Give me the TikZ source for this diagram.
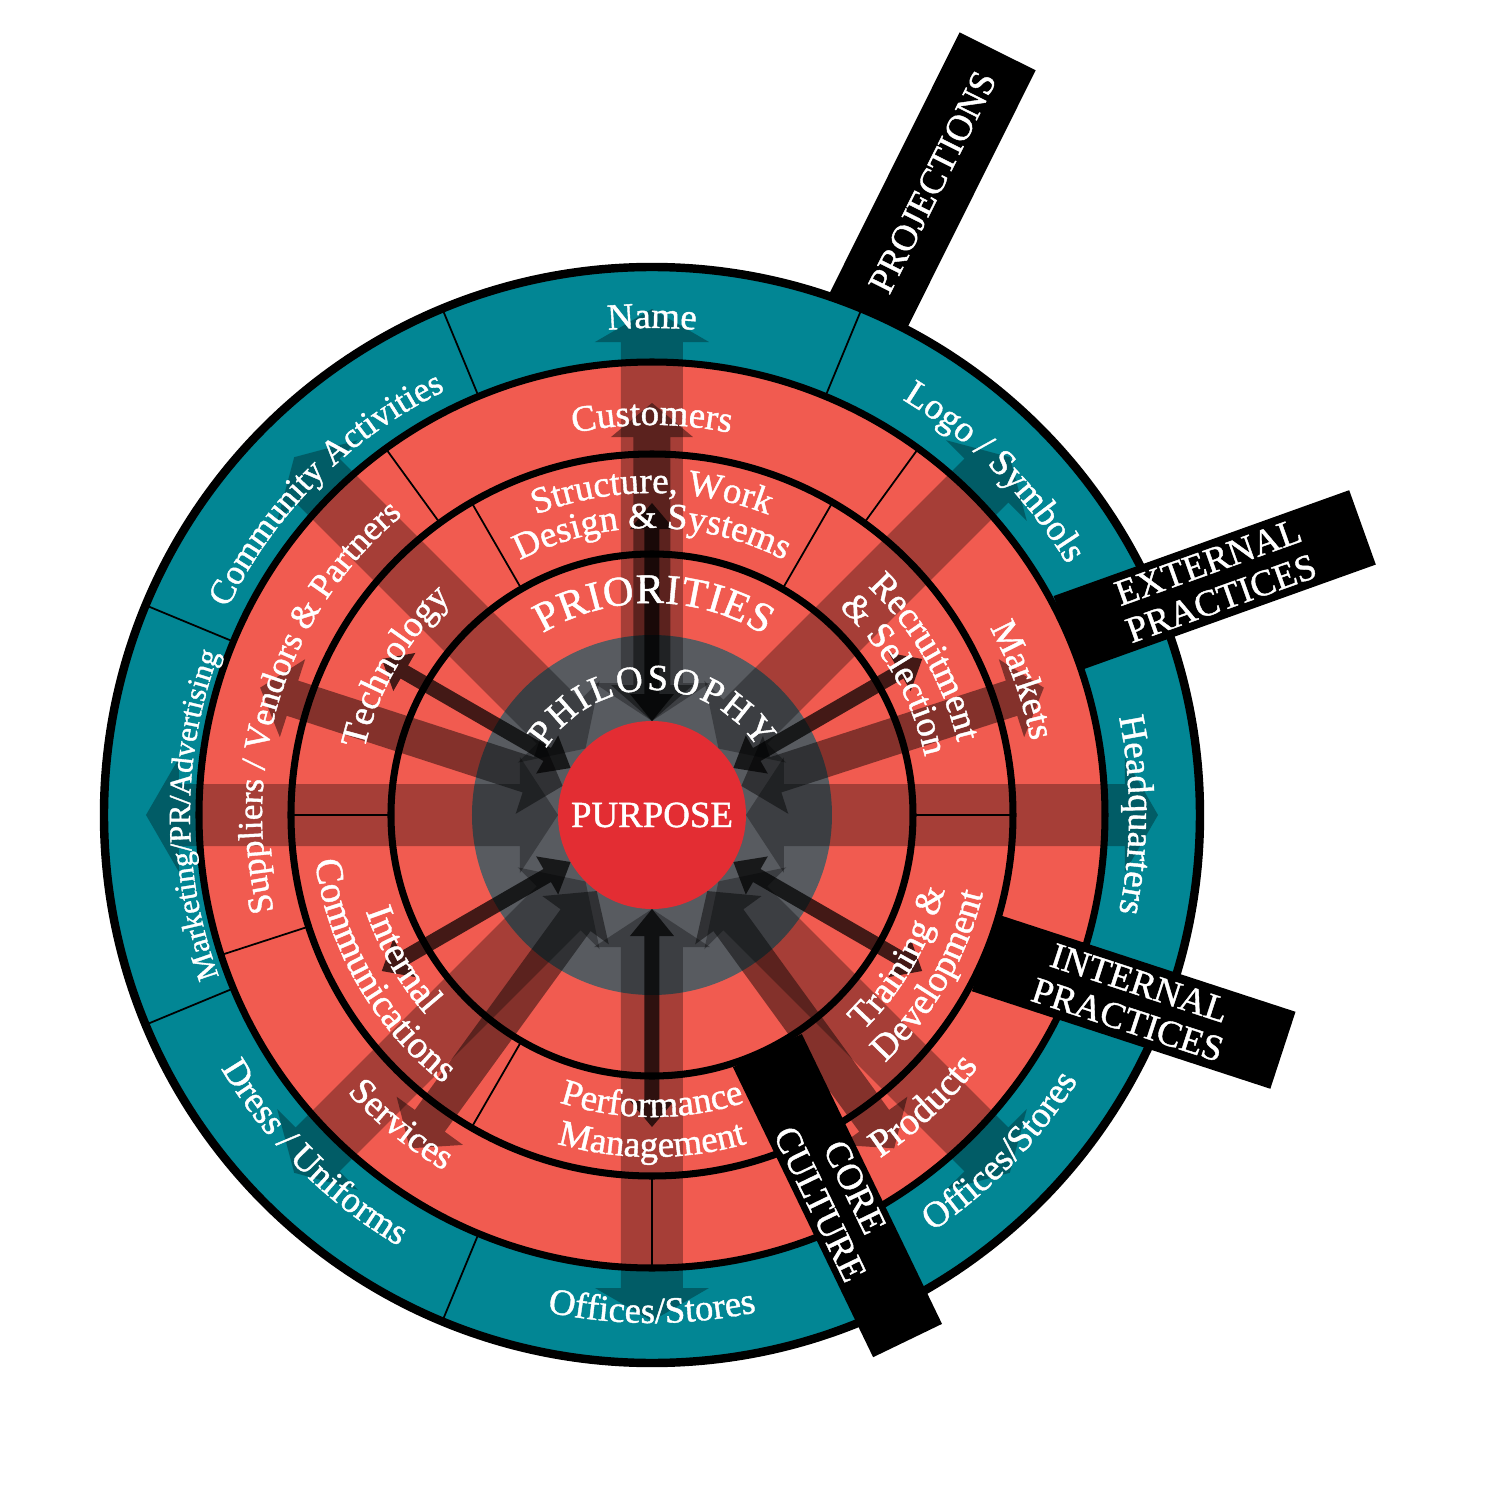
\documentclass[tikz,border=0pt]{standalone}
\usepackage{fontspec}
\setmainfont{Liberation Serif}[FakeBold=1.1]
\usetikzlibrary{decorations.text}
\definecolor{ringred}{RGB}{241,91,80}
\definecolor{ringteal}{RGB}{2,134,148}
\definecolor{philgrey}{RGB}{88,91,96}
\definecolor{purposered}{RGB}{227,45,51}
\newcommand\wlab[1]{\color{white}\fontsize{#1}{#1}\selectfont}

\begin{document}
\begin{tikzpicture}[line cap=round,
  wideband/.style={fill=black,fill opacity=0.31},
  midband/.style={fill=black,fill opacity=0.45},
  thinband/.style={fill=black,fill opacity=0.72},
  ringline/.style={draw=black,line width=2pt},
  divider/.style={draw=black,line width=0.5pt},
  barbox/.style={fill=black,text=white,align=center,inner sep=0pt,font=\fontsize{10.5}{11}\selectfont},
  arclab/.style={decorate,decoration={text along path,text align=center,text={#1}}},
  fitlab/.style={decorate,decoration={text along path,text align=fit to path,text={#1}}}]
\useasboundingbox (-6.52,-6.85) rectangle (8.48,8.15);
\fill[white] (-6.52,-6.85) rectangle (8.48,8.15);
\node[barbox,rotate=63.5,minimum width=2.92cm,minimum height=0.85cm] (projections) at (2.805,6.33) {PROJECTIONS};
% rings
\fill[ringteal] (0,0) circle (5.48);
\fill[ringred] (0,0) circle (4.53);
\fill[philgrey] (0,0) circle (1.8);
\foreach \a in {0,60,...,300} \draw[divider] (\a:2.61) -- (\a:3.61);
\foreach \a in {54,126,...,342} \draw[divider] (\a:3.61) -- (\a:4.53);
\foreach \a in {22.5,67.5,...,337.5} \draw[divider] (\a:4.53) -- (\a:5.48);
% arrows
\foreach \a in {0,45,...,315}
  \fill[wideband,rotate=\a] (0.94,0) -- (1.32,0.58) -- (1.32,0.31) -- (4.73,0.31) -- (4.73,0.57) -- (5.06,0) -- (4.73,-0.57) -- (4.73,-0.31) -- (1.32,-0.31) -- (1.32,-0.58) -- cycle;
\foreach \a in {18,90,162,234,306}
  \fill[midband,rotate=\a] (0.94,0) -- (1.3,0.41) -- (1.3,0.185) -- (3.78,0.185) -- (3.78,0.41) -- (4.12,0) -- (3.78,-0.41) -- (3.78,-0.185) -- (1.3,-0.185) -- (1.3,-0.41) -- cycle;
\foreach \a in {30,90,...,330}
  \fill[thinband,rotate=\a] (0.94,0) -- (1.21,0.22) -- (1.21,0.075) -- (2.86,0.075) -- (2.86,0.22) -- (3.12,0) -- (2.86,-0.22) -- (2.86,-0.075) -- (1.21,-0.075) -- (1.21,-0.22) -- cycle;
\draw[ringline] (0,0) circle (2.61) (0,0) circle (3.61) (0,0) circle (4.53);
\draw[ringline,line width=2.4pt] (0,0) circle (5.48);
\node[circle,fill=purposered,minimum size=1.88cm,inner sep=0pt,text=white,font=\fontsize{10.5}{12}\selectfont] (purpose) at (0,0) {PURPOSE};
% bars
\node[barbox,rotate=19.7,minimum width=3.14cm,minimum height=0.79cm] (external) at (5.627,2.347) {EXTERNAL\\PRACTICES};
\node[barbox,rotate=-18.1,minimum width=3.14cm,minimum height=0.81cm] (internal) at (4.817,-1.865) {INTERNAL\\PRACTICES};
\node[barbox,rotate=-64.2,minimum width=3.22cm,minimum height=0.765cm] (core) at (1.855,-3.806) {CORE\\CULTURE};
% outer ring labels
\path[arclab={|\wlab{10.5}|Name}] (110:4.87) arc[start angle=110,end angle=70,radius=4.87];
\path[arclab={|\wlab{10.5}|Logo / Symbols}] (70:4.85) arc[start angle=70,end angle=20,radius=4.85];
\path[arclab={|\wlab{10.5}|Headquarters}] (20:4.77) arc[start angle=20,end angle=-20,radius=4.77];
\path[arclab={|\wlab{10.5}|Offices/Stores}] (291:5.02) arc[start angle=291,end angle=341,radius=5.02];
\path[arclab={|\wlab{10.5}|Offices/Stores}] (245:5.08) arc[start angle=245,end angle=295,radius=5.08];
\path[arclab={|\wlab{10.5}|Dress / Uniforms}] (195:5.0) arc[start angle=195,end angle=255,radius=5.0];
\path[arclab={|\wlab{8.8}|Marketing/PR/Advertising}] (210:4.62) arc[start angle=210,end angle=150,radius=4.62];
\path[arclab={|\wlab{10}|Community Activities}] (165:4.72) arc[start angle=165,end angle=105,radius=4.72];
% external practices
\path[arclab={|\wlab{10.5}|Customers}] (110:3.9) arc[start angle=110,end angle=70,radius=3.9];
\path[arclab={|\wlab{10.5}|Markets}] (40:3.86) arc[start angle=40,end angle=0,radius=3.86];
\path[arclab={|\wlab{11}|Products}] (288:4.12) arc[start angle=288,end angle=338,radius=4.12];
\path[arclab={|\wlab{10.5}|Services}] (206:4.12) arc[start angle=206,end angle=256,radius=4.12];
\path[arclab={|\wlab{10}|Suppliers / Vendors {\&} Partners}] (212:3.9) arc[start angle=212,end angle=112,radius=3.9];
% internal practices
\path[arclab={|\wlab{10.5}|Structure, Work}] (125:3.22) arc[start angle=125,end angle=55,radius=3.22];
\path[arclab={|\wlab{10.5}|Design {\&} Systems}] (125:2.87) arc[start angle=125,end angle=55,radius=2.87];
\path[arclab={|\wlab{10.5}|Recruitment}] (65:3.14) arc[start angle=65,end angle=-5,radius=3.14];
\path[arclab={|\wlab{10.5}|{\&} Selection}] (65:2.79) arc[start angle=65,end angle=-5,radius=2.79];
\path[arclab={|\wlab{10.5}|Technology}] (185:2.95) arc[start angle=185,end angle=115,radius=2.95];
\path[arclab={|\wlab{10.5}|Training {\&}}] (295:3.02) arc[start angle=295,end angle=365,radius=3.02];
\path[arclab={|\wlab{10.5}|Development}] (295:3.4) arc[start angle=295,end angle=365,radius=3.4];
\path[arclab={|\wlab{10.5}|Performance}] (235:3.02) arc[start angle=235,end angle=305,radius=3.02];
\path[arclab={|\wlab{10.5}|Management}] (235:3.42) arc[start angle=235,end angle=305,radius=3.42];
\path[arclab={|\wlab{11}|Internal}] (175:3.02) arc[start angle=175,end angle=245,radius=3.02];
\path[arclab={|\wlab{11}|Communications}] (175:3.4) arc[start angle=175,end angle=245,radius=3.4];
% core
\path[fitlab={|\wlab{12}|PRIORITIES}] (121:2.12) arc[start angle=121,end angle=58,radius=2.12];
\path[fitlab={|\wlab{10.5}|PHILOSOPHY}] (148:1.25) arc[start angle=148,end angle=32,radius=1.25];
\end{tikzpicture}
\end{document}
